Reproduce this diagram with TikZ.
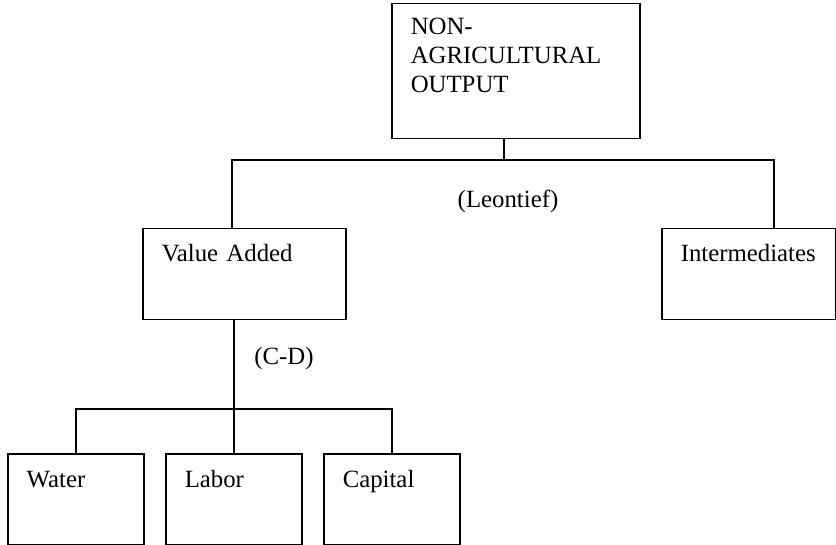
\documentclass[tikz,border=0pt]{standalone}
\usepackage{fontspec}
\setmainfont{Liberation Serif}

\begin{document}
\begin{tikzpicture}[
  x=0.5pt, y=-0.5pt,
  every node/.style={font=\fontsize{12.4}{14.5}\selectfont},
  box/.style={draw, line width=0.75pt, anchor=north west, align=left,
              inner xsep=9.5pt, inner ysep=0pt},
  topbox/.style={box, text width=105pt, text height=15.5pt, text depth=52pt},
  midbox/.style={box, text height=16.5pt, text depth=29pt},
  lowbox/.style={box, text width=49pt, text height=17pt, text depth=28.5pt},
  note/.style={inner sep=0pt},
  link/.style={line width=0.75pt},
]
\useasboundingbox (0,0) rectangle (836,545);

%% ── Output ───────────────────────────────────
\node[topbox] at (391,3) (nonag) {NON-\\AGRICULTURAL\\OUTPUT};

%% ── First nest ───────────────────────────────
\node[midbox, text width=82.5pt] at (142,228) (va) {Value Added};
\node[midbox, text width=68pt] at (661,228) (int) {Intermediates};
\node[note] at (508,201) (leon) {(Leontief)};

%% ── Second nest ──────────────────────────────
\node[lowbox] at (7,453)   (water)   {Water};
\node[lowbox] at (165,453) (labor)   {Labor};
\node[lowbox] at (323,453) (capital) {Capital};
\node[note] at (284,359) (cd) {(C-D)};

%% ── Junctions ────────────────────────────────
\coordinate (topj) at (504,160);
\coordinate (vaj)  at (232,160);
\coordinate (intj) at (774,160);
\coordinate (botj) at (232,409);

%% ── Connectors ───────────────────────────────
\draw[link] (nonag.south -| topj) -- (topj);
\draw[link] (va.north -| vaj) -- (vaj) -- (intj) -- (int.north -| intj);
\draw[link] (va.south -| labor.north) -- (labor.north);
\draw[link] (water.north) -- (water.north |- botj)
    -- (capital.north |- botj) -- (capital.north);

\end{tikzpicture}
\end{document}
